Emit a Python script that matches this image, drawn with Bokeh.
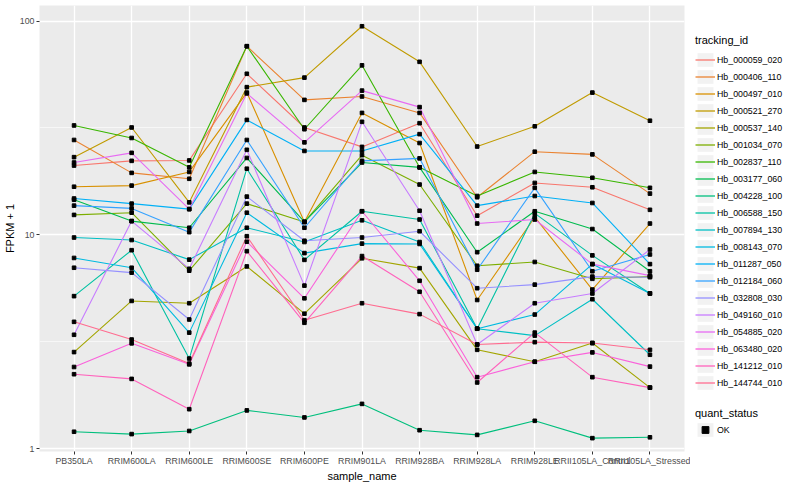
from bokeh.plotting import figure
from bokeh.models import (Range1d, FixedTicker, NumeralTickFormatter, Legend, LegendItem)
from bokeh.layouts import row
from bokeh.embed import file_html
from bokeh.resources import INLINE

samples = ["PB350LA", "RRIM600LA", "RRIM600LE", "RRIM600SE", "RRIM600PE", "RRIM901LA",
           "RRIM928BA", "RRIM928LA", "RRIM928LE", "RRII105LA_Control", "RRII105LA_Stressed"]

tracking_ids = ["Hb_000059_020", "Hb_000406_110", "Hb_000497_010", "Hb_000521_270",
                "Hb_000537_140", "Hb_001034_070", "Hb_002837_110", "Hb_003177_060",
                "Hb_004228_100", "Hb_006588_150", "Hb_007894_130", "Hb_008143_070",
                "Hb_011287_050", "Hb_012184_060", "Hb_032808_030", "Hb_049160_010",
                "Hb_054885_020", "Hb_063480_020", "Hb_141212_010", "Hb_144744_010"]

colors = ["#F8766D", "#EA8331", "#D89000", "#C09B00", "#A3A500", "#7CAE00", "#39B600",
          "#00BB4E", "#00BF7D", "#00C1A3", "#00BFC4", "#00BAE0", "#00B0F6", "#35A2FF",
          "#9590FF", "#C77CFF", "#E76BF3", "#FA62DB", "#FF62BC", "#FF6C90"]

# FPKM + 1 per sample (same order as samples)
hb_000059_020 = [21.1, 22.2, 22.3, 56.7, 31.8, 25.8, 33.3, 12.3, 17.5, 16.7, 13.1]
hb_000406_110 = [27.8, 19.5, 18.3, 76.3, 42.8, 44.4, 37.2, 15.0, 24.5, 23.8, 15.6]
hb_000497_010 = [16.8, 17.0, 19.7, 46.3, 11.5, 37.2, 26.9, 4.96, 12.1, 5.55, 11.3]
hb_000521_270 = [23.1, 31.8, 14.2, 49.1, 54.4, 94.6, 64.5, 25.9, 32.2, 46.3, 34.2]
hb_000537_140 = [2.83, 4.91, 4.79, 7.12, 4.28, 7.77, 6.99, 2.90, 2.55, 3.12, 1.93]
hb_001034_070 = [12.4, 12.7, 6.80, 14.0, 11.5, 23.6, 17.2, 7.17, 7.47, 6.23, 6.38]
hb_002837_110 = [32.5, 28.4, 20.7, 76.3, 31.2, 62.1, 20.7, 15.2, 19.7, 18.5, 16.6]
hb_003177_060 = [14.6, 11.6, 10.8, 22.9, 11.5, 21.8, 20.7, 8.30, 12.9, 10.65, 6.76]
hb_004228_100 = [1.20, 1.17, 1.21, 1.51, 1.40, 1.62, 1.22, 1.16, 1.35, 1.12, 1.13]
hb_006588_150 = [5.17, 8.48, 2.64, 20.4, 7.64, 12.9, 11.8, 3.64, 12.6, 8.02, 5.32]
hb_007894_130 = [9.72, 9.46, 7.66, 10.8, 9.26, 11.7, 9.26, 3.64, 3.38, 5.00, 2.75]
hb_008143_070 = [7.80, 7.02, 3.49, 12.7, 8.22, 9.10, 9.07, 3.64, 4.24, 7.30, 5.32]
hb_011287_050 = [14.8, 14.0, 13.2, 34.5, 24.7, 24.7, 29.6, 13.7, 15.2, 14.1, 7.30]
hb_012184_060 = [13.7, 13.3, 10.3, 27.8, 10.8, 22.2, 22.8, 6.87, 16.6, 6.76, 8.10]
hb_032808_030 = [7.02, 6.66, 4.02, 15.1, 9.39, 9.72, 10.4, 5.63, 5.85, 6.38, 6.34]
hb_049160_010 = [3.41, 11.6, 6.94, 25.0, 5.79, 33.8, 12.97, 3.07, 4.79, 5.32, 8.54]
hb_054885_020 = [21.8, 24.2, 13.2, 45.9, 27.1, 47.3, 39.6, 11.3, 11.8, 7.30, 6.45]
hb_063480_020 = [2.41, 3.11, 2.48, 9.29, 5.05, 12.9, 6.10, 2.16, 2.55, 2.82, 2.42]
hb_141212_010 = [2.23, 2.12, 1.53, 8.39, 3.88, 7.96, 5.42, 2.04, 3.49, 2.16, 1.93]
hb_144744_010 = [3.92, 3.24, 2.50, 9.86, 3.99, 4.79, 4.26, 3.07, 3.15, 3.12, 2.90]

series = [hb_000059_020, hb_000406_110, hb_000497_010, hb_000521_270, hb_000537_140,
          hb_001034_070, hb_002837_110, hb_003177_060, hb_004228_100, hb_006588_150,
          hb_007894_130, hb_008143_070, hb_011287_050, hb_012184_060, hb_032808_030,
          hb_049160_010, hb_054885_020, hb_063480_020, hb_141212_010, hb_144744_010]

y_ticks = [1, 10, 100]
y_minor = [10 ** 0.5, 10 ** 1.5]

FONT = "Liberation Sans"

xs = list(range(1, len(samples) + 1))

p = figure(width=690, height=484, output_backend="svg", toolbar_location=None, title=None,
           y_axis_type="log", x_range=Range1d(0.4, len(samples) + 0.6),
           y_range=Range1d(0.97, 118.3),
           min_border_left=30, min_border_right=6, min_border_top=5, min_border_bottom=24,
           background_fill_color="#EBEBEB", border_fill_color="white",
           outline_line_color=None)

for vals, col in zip(series, colors):
    p.line(xs, vals, line_color=col, line_width=1.1)
for vals in series:
    p.scatter(xs, vals, marker="square", size=3.6, fill_color="black", line_color="black")

xt = FixedTicker(ticks=xs)
p.xaxis.ticker = xt
p.xgrid.ticker = xt
p.xaxis.major_label_overrides = {x: s for x, s in zip(xs, samples)}
yt = FixedTicker(ticks=y_ticks, minor_ticks=y_minor)
p.yaxis.ticker = yt
p.ygrid.ticker = yt
p.yaxis.formatter = NumeralTickFormatter(format="0")

p.grid.grid_line_color = "white"
p.grid.grid_line_width = 1.3
p.ygrid.minor_grid_line_color = "white"
p.ygrid.minor_grid_line_width = 0.6

p.axis.axis_line_color = None
p.axis.major_tick_in = 0
p.axis.major_tick_out = 3
p.axis.major_tick_line_color = "#333333"
p.axis.minor_tick_line_color = None
p.axis.major_label_text_font = FONT
p.axis.major_label_text_font_size = "8.8px"
p.axis.major_label_text_color = "#4D4D4D"
p.axis.major_label_standoff = 1
p.axis.axis_label_text_font = FONT
p.axis.axis_label_text_font_size = "11px"
p.axis.axis_label_text_font_style = "normal"
p.axis.axis_label_text_color = "black"
p.axis.axis_label_standoff = 1
p.xaxis.axis_label = "sample_name"
p.yaxis.axis_label = "FPKM + 1"

# legend panel
lp = figure(width=100, height=484, output_backend="svg", toolbar_location=None, title=None,
            x_range=Range1d(0, 1), y_range=Range1d(0, 1),
            x_axis_location=None, y_axis_location=None,
            min_border_left=0, min_border_right=0, min_border_top=0, min_border_bottom=0,
            outline_line_color=None, background_fill_color="white", border_fill_color="white")
lp.grid.visible = False

key_bg = lp.quad(left=[5], right=[6], bottom=[5], top=[6], fill_color="#F2F2F2", line_color=None)
items = []
for name, col in zip(tracking_ids, colors):
    r = lp.line([5, 6], [5, 6], line_color=col, line_width=1.3)
    items.append(LegendItem(label=name, renderers=[key_bg, r]))
ok_r = lp.scatter([5], [5], marker="square", size=4, fill_color="black", line_color="black")


def style(leg, standoff):
    leg.padding = 0
    leg.margin = 0
    leg.spacing = 0
    leg.glyph_width = 20
    leg.glyph_height = 17
    leg.label_height = 17
    leg.label_standoff = 2
    leg.label_text_font = FONT
    leg.label_text_font_size = "8.8px"
    leg.label_text_color = "black"
    leg.title_text_font = FONT
    leg.title_text_font_size = "11px"
    leg.title_text_font_style = "normal"
    leg.title_text_color = "black"
    leg.title_standoff = standoff
    leg.border_line_color = None
    leg.background_fill_alpha = 0


leg1 = Legend(items=items, title="tracking_id", location=(5, 60))
style(leg1, 5)
lp.add_layout(leg1)

leg2 = Legend(items=[LegendItem(label="OK", renderers=[key_bg, ok_r])],
              title="quant_status", location=(5, 13))
style(leg2, 2)
lp.add_layout(leg2)

layout = row(p, lp)
open("out.html", "w").write(file_html(layout, INLINE))
